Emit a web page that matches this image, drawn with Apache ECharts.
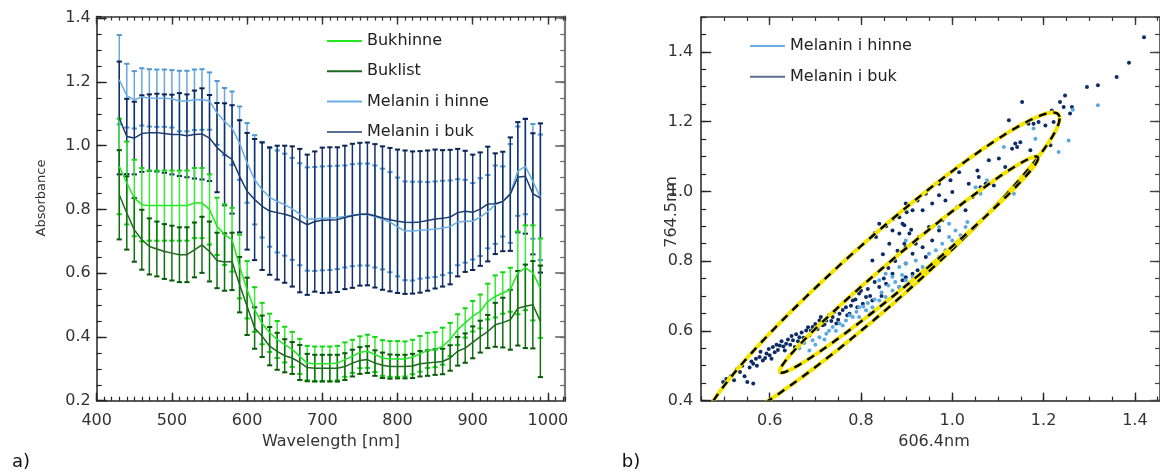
<!DOCTYPE html>
<html><head><meta charset="utf-8">
<script src="https://cdn.jsdelivr.net/npm/echarts@6/dist/echarts.min.js"></script>
<style>html,body{margin:0;padding:0;background:#fff}#c{width:1160px;height:471px}</style>
</head><body><div id="c"></div>
<script>
// ---------- Panel a) data ----------
const wavelengths = [430,440,450,460,470,480,490,500,510,520,530,540,550,560,570,580,590,600,610,620,630,640,650,660,670,680,690,700,710,720,730,740,750,760,770,780,790,800,810,820,830,840,850,860,870,880,890,900,910,920,930,940,950,960,970,980,990];
const bukhinneMean = [0.935,0.883,0.836,0.815,0.812,0.812,0.812,0.812,0.812,0.812,0.820,0.820,0.800,0.747,0.721,0.705,0.621,0.548,0.486,0.442,0.413,0.392,0.376,0.361,0.339,0.318,0.316,0.316,0.316,0.318,0.329,0.339,0.352,0.355,0.345,0.334,0.331,0.331,0.331,0.337,0.347,0.358,0.360,0.371,0.392,0.423,0.444,0.465,0.480,0.511,0.527,0.538,0.548,0.601,0.617,0.601,0.553];
const bukhinneSd = [0.150,0.130,0.120,0.115,0.110,0.110,0.110,0.110,0.110,0.110,0.110,0.110,0.110,0.090,0.095,0.100,0.100,0.090,0.070,0.065,0.060,0.058,0.056,0.055,0.055,0.054,0.054,0.054,0.054,0.054,0.054,0.052,0.050,0.052,0.055,0.056,0.056,0.056,0.055,0.054,0.056,0.055,0.055,0.058,0.052,0.048,0.046,0.048,0.053,0.056,0.066,0.065,0.069,0.130,0.133,0.149,0.156];
const buklistMean = [0.846,0.789,0.736,0.705,0.684,0.676,0.668,0.663,0.658,0.658,0.673,0.689,0.668,0.640,0.635,0.637,0.564,0.496,0.428,0.402,0.371,0.355,0.341,0.334,0.320,0.304,0.302,0.302,0.302,0.302,0.307,0.318,0.326,0.329,0.318,0.311,0.307,0.307,0.307,0.309,0.316,0.318,0.321,0.323,0.334,0.355,0.365,0.383,0.401,0.417,0.438,0.445,0.454,0.490,0.496,0.501,0.449];
const buklistSd = [0.140,0.115,0.100,0.094,0.088,0.086,0.086,0.086,0.086,0.086,0.086,0.088,0.094,0.087,0.090,0.090,0.087,0.090,0.065,0.065,0.060,0.058,0.052,0.050,0.055,0.043,0.042,0.042,0.042,0.042,0.042,0.042,0.042,0.042,0.040,0.040,0.038,0.037,0.037,0.038,0.040,0.040,0.040,0.040,0.040,0.045,0.046,0.050,0.050,0.052,0.069,0.078,0.094,0.117,0.131,0.137,0.175];
const hinneMean = [1.207,1.157,1.144,1.153,1.150,1.149,1.149,1.147,1.140,1.140,1.144,1.145,1.140,1.103,1.076,1.055,1.008,0.946,0.893,0.862,0.838,0.825,0.815,0.802,0.785,0.770,0.770,0.772,0.773,0.775,0.778,0.782,0.784,0.784,0.778,0.770,0.760,0.745,0.733,0.732,0.735,0.736,0.738,0.742,0.746,0.760,0.763,0.763,0.776,0.793,0.815,0.825,0.850,0.920,0.935,0.888,0.838];
const hinneSd = [0.140,0.100,0.090,0.090,0.090,0.090,0.090,0.090,0.095,0.095,0.095,0.095,0.090,0.100,0.105,0.115,0.115,0.125,0.140,0.150,0.155,0.160,0.160,0.160,0.160,0.162,0.163,0.163,0.163,0.162,0.160,0.160,0.160,0.160,0.160,0.158,0.157,0.155,0.155,0.155,0.152,0.150,0.150,0.148,0.145,0.135,0.130,0.120,0.122,0.115,0.123,0.110,0.155,0.140,0.150,0.180,0.197];
const bukMean = [1.087,1.029,1.024,1.038,1.041,1.041,1.038,1.035,1.035,1.031,1.035,1.037,1.024,0.994,0.973,0.957,0.904,0.857,0.831,0.810,0.795,0.790,0.785,0.778,0.765,0.752,0.762,0.766,0.767,0.768,0.775,0.780,0.785,0.786,0.780,0.773,0.768,0.763,0.760,0.759,0.761,0.765,0.770,0.772,0.776,0.790,0.794,0.791,0.801,0.817,0.818,0.825,0.848,0.901,0.904,0.849,0.836];
const bukSd = [0.177,0.118,0.114,0.120,0.120,0.122,0.123,0.125,0.130,0.130,0.138,0.143,0.135,0.140,0.160,0.170,0.176,0.183,0.190,0.200,0.200,0.210,0.215,0.220,0.225,0.220,0.220,0.228,0.228,0.227,0.225,0.226,0.224,0.224,0.225,0.225,0.225,0.225,0.225,0.223,0.222,0.220,0.218,0.214,0.211,0.200,0.190,0.181,0.178,0.180,0.158,0.156,0.178,0.173,0.180,0.190,0.234];
const leftXTicks = [400,500,600,700,800,900,1000];
const leftYTicks = [0.2,0.4,0.6,0.8,1.0,1.2,1.4];

// ---------- Panel b) data ----------
const bukScatterX = [0.498,0.535,0.551,0.564,0.564,0.578,0.593,0.585,0.607,0.611,0.622,0.636,0.633,0.651,0.655,0.665,0.680,0.687,0.694,0.709,0.716,0.724,0.738,0.746,0.753,0.767,0.775,0.782,0.796,0.804,0.811,0.825,0.840,0.855,0.869,0.884,0.898,
 0.825,0.833,0.840,0.869,0.884,0.898,0.895,
 0.505,0.515,0.522,0.528,0.540,0.545,0.556,0.560,0.570,0.572,0.580,0.590,0.598,0.600,0.604,0.615,0.618,0.626,0.630,0.640,0.645,0.648,0.658,0.662,0.670,0.674,0.684,0.690,0.700,0.705,0.712,0.720,0.730,0.735,0.742,0.750,0.760,0.770,0.778,0.788,0.792,0.800,0.815,0.820,0.830,0.845,0.850,0.860,0.875,0.880,0.862,0.848,0.830,0.855,0.870,0.900,0.910,0.920,
 0.891,0.906,0.895,0.913,0.927,0.935,0.949,0.956,0.971,0.978,0.898,0.913,0.891,0.924,0.942,
 0.884,0.898,0.913,0.924,0.935,0.942,0.956,0.971,0.971,0.985,0.996,1.000,1.011,1.015,1.029,1.036,1.044,1.055,1.058,1.062,1.073,1.080,1.091,1.102,1.116,1.124,1.131,1.138,1.142,1.149,1.153,1.167,1.171,1.178,1.189,1.204,1.215,1.218,1.222,1.236,1.244,1.247,1.258,1.262,1.295,1.319,1.360,1.387,1.420];
const bukScatterY = [0.453,0.482,0.453,0.449,0.506,0.525,0.535,0.515,0.554,0.539,0.558,0.563,0.544,0.573,0.554,0.582,0.601,0.587,0.611,0.630,0.616,0.630,0.640,0.621,0.649,0.668,0.649,0.687,0.707,0.678,0.697,0.687,0.726,0.735,0.764,0.726,0.754,
 0.802,0.869,0.907,0.888,0.879,0.840,0.903,
 0.462,0.470,0.458,0.490,0.500,0.470,0.495,0.512,0.520,0.500,0.540,0.522,0.548,0.530,0.520,0.560,0.545,0.570,0.555,0.575,0.560,0.585,0.590,0.570,0.595,0.580,0.610,0.600,0.620,0.605,0.640,0.618,0.645,0.628,0.655,0.632,0.660,0.645,0.672,0.690,0.668,0.715,0.720,0.700,0.740,0.700,0.750,0.780,0.800,0.830,0.850,0.820,0.880,0.900,0.920,0.940,0.890,0.850,
 0.907,0.879,0.850,0.821,0.869,0.840,0.898,0.859,0.888,0.917,0.793,0.764,0.745,0.774,0.812,
 0.926,0.965,0.946,0.974,0.946,0.993,0.965,1.022,0.989,0.974,1.032,0.998,0.955,1.055,0.946,1.022,0.984,1.060,1.041,1.012,1.022,1.089,1.017,1.094,1.070,1.204,1.122,1.137,1.127,1.141,1.256,1.194,1.118,1.194,1.199,1.189,1.132,1.232,1.199,1.256,1.242,1.275,1.223,1.242,1.299,1.304,1.328,1.369,1.442];
const hinneScatterX = [0.687,0.694,0.709,0.724,0.738,0.753,0.767,0.782,0.796,0.811,0.825,0.840,0.854,0.869,0.884,0.898,0.796,0.869,0.884,0.898,0.854,0.840,
 0.700,0.730,0.760,0.775,0.790,0.805,0.820,0.830,0.845,0.860,0.875,0.890,0.720,0.745,0.665,0.676,0.815,
 0.898,0.920,0.935,0.949,0.964,0.978,0.993,1.007,1.029,0.956,0.942,0.906,0.971,0.985,1.000,1.018,1.033,0.913,0.895,
 1.051,1.062,1.076,1.102,1.113,1.135,1.178,1.182,1.233,1.255,1.264,1.319,0.993,0.971,1.033];
const hinneScatterY = [0.544,0.573,0.582,0.592,0.611,0.621,0.630,0.640,0.640,0.659,0.668,0.687,0.697,0.716,0.726,0.745,0.668,0.755,0.783,0.793,0.764,0.745,
 0.560,0.600,0.615,0.645,0.655,0.670,0.650,0.690,0.710,0.730,0.740,0.760,0.575,0.600,0.550,0.565,0.680,
 0.859,0.802,0.783,0.821,0.831,0.850,0.869,0.888,0.898,0.783,0.774,0.735,0.812,0.831,0.859,0.874,0.879,0.755,0.726,
 1.012,0.993,1.032,0.965,1.127,0.993,1.180,1.151,1.113,1.146,1.234,1.247,0.907,0.898,0.912];
// confidence ellipses: centre, half-extent in x and y, correlation
const ellipseCx = [0.845, 0.905];
const ellipseCy = [0.772, 0.790];
const ellipseSx = [0.390, 0.283];
const ellipseSy = [0.454, 0.310];
const ellipseRho = [0.963, 0.985];
const rightXTicks = [0.6,0.8,1.0,1.2,1.4];
const rightYTicks = [0.4,0.6,0.8,1.0,1.2,1.4];

// ---------- build ----------
const FONT = 'DejaVu Sans';
const zip = (a, b) => a.map((v, i) => [v, b[i]]);
const errData = (m, s) => wavelengths.map((w, i) => [w, m[i] - s[i], m[i] + s[i]]);

function errRender(barColor, capColor) {
  return function (params, api) {
    const x = api.value(0), lo = api.value(1), hi = api.value(2);
    const p1 = api.coord([x, hi]), p2 = api.coord([x, lo]);
    const w = 2.6;
    return { type: 'group', children: [
      { type: 'line', shape: { x1: p1[0], y1: p1[1], x2: p2[0], y2: p2[1] }, style: { stroke: barColor, lineWidth: 1.5 } },
      { type: 'line', shape: { x1: p1[0] - w, y1: p1[1], x2: p1[0] + w, y2: p1[1] }, style: { stroke: capColor, lineWidth: 2 } },
      { type: 'line', shape: { x1: p2[0] - w, y1: p2[1], x2: p2[0] + w, y2: p2[1] }, style: { stroke: capColor, lineWidth: 2 } }
    ] };
  };
}

function ellipseRender(params, api) {
  const k = api.value(2);
  const pts = [];
  const s = Math.sqrt(1 - ellipseRho[k] * ellipseRho[k]);
  for (let j = 0; j <= 240; j++) {
    const t = j / 240 * 2 * Math.PI;
    const x = ellipseCx[k] + ellipseSx[k] * Math.cos(t);
    const y = ellipseCy[k] + ellipseSy[k] * (ellipseRho[k] * Math.cos(t) - s * Math.sin(t));
    pts.push(api.coord([x, y]));
  }
  const cs = params.coordSys;
  return { type: 'group',
    clipPath: { type: 'rect', shape: { x: cs.x, y: cs.y, width: cs.width, height: cs.height } },
    children: [
      { type: 'polyline', shape: { points: pts }, style: { stroke: '#f3e500', lineWidth: 4, fill: null } },
      { type: 'polyline', shape: { points: pts }, style: { stroke: '#000', lineWidth: 2.4, lineDash: [8, 7], fill: null } }
    ] };
}

const base = { type: 'value', splitLine: { show: false }, axisLabel: { show: false }, axisTick: { show: false }, axisLine: { show: false } };
const ax = (o) => Object.assign({}, base, o);
const lineOn = (c, w) => ({ show: true, onZero: false, lineStyle: { color: c, width: w } });
const tk = (len, c, w, vals) => { const t = { show: true, inside: true, length: len, lineStyle: { color: c, width: w } }; if (vals) t.customValues = vals; return t; };
const lbl = (vals, margin, fmt) => ({ show: true, customValues: vals, margin: margin, fontSize: 16, color: '#333', fontFamily: FONT, formatter: fmt });
const f1 = v => Number(v).toFixed(1);

const LX = { min: 400, max: 1023 }, LY = { min: 0.2, max: 1.405 };
const RX = { min: 0.45, max: 1.455 }, RY = { min: 0.4, max: 1.5 };
const legendText = { fontSize: 16, color: '#222', fontFamily: FONT, lineHeight: 20 };

const option = {
  animation: false,
  backgroundColor: '#fff',
  grid: [
    { left: 96.7, top: 16.6, width: 468.5, height: 384.1 },
    { left: 96.7, top: 16.6, width: 468.5, height: 384.1 },
    { left: 701.2, top: 17, width: 460.7, height: 383.6 },
    { left: 701.2, top: 17, width: 460.7, height: 383.6 }
  ],
  xAxis: [
    ax(Object.assign({ gridIndex: 0, position: 'bottom', axisLine: lineOn('#222', 1.5), axisTick: tk(8, '#222', 1.4, leftXTicks), axisLabel: lbl(leftXTicks, 12, v => String(v)) }, LX)),
    ax(Object.assign({ gridIndex: 0, position: 'top', axisLine: lineOn('#333', 1.5), axisTick: tk(8, '#333', 1.4, leftXTicks) }, LX)),
    ax(Object.assign({ gridIndex: 1, position: 'bottom', interval: 10, axisTick: tk(4, '#222', 1.2) }, LX)),
    ax(Object.assign({ gridIndex: 1, position: 'top', interval: 10, axisTick: tk(4, '#333', 1.2) }, LX)),
    ax(Object.assign({ gridIndex: 2, position: 'bottom', axisLine: lineOn('#222', 1.5), axisTick: tk(8, '#222', 1.4, rightXTicks), axisLabel: lbl(rightXTicks, 12, f1) }, RX)),
    ax(Object.assign({ gridIndex: 2, position: 'top', axisLine: lineOn('#333', 1.5), axisTick: tk(8, '#333', 1.4, rightXTicks) }, RX)),
    ax(Object.assign({ gridIndex: 3, position: 'bottom', interval: 0.05, axisTick: tk(4, '#222', 1.2) }, RX)),
    ax(Object.assign({ gridIndex: 3, position: 'top', interval: 0.05, axisTick: tk(4, '#333', 1.2) }, RX))
  ],
  yAxis: [
    ax(Object.assign({ gridIndex: 0, position: 'left', axisLine: lineOn('#222', 1.5), axisTick: tk(10, '#222', 1.4, leftYTicks), axisLabel: lbl(leftYTicks, 6, f1) }, LY)),
    ax(Object.assign({ gridIndex: 0, position: 'right', axisLine: lineOn('#7a7a7a', 2.2), axisTick: tk(10, '#666', 1.6, leftYTicks) }, LY)),
    ax(Object.assign({ gridIndex: 1, position: 'left', interval: 0.05, axisTick: tk(5, '#222', 1.2) }, LY)),
    ax(Object.assign({ gridIndex: 1, position: 'right', interval: 0.05, axisTick: tk(5, '#666', 1.2) }, LY)),
    ax(Object.assign({ gridIndex: 2, position: 'left', axisLine: lineOn('#222', 1.5), axisTick: tk(10, '#222', 1.4, rightYTicks), axisLabel: lbl(rightYTicks, 8, f1) }, RY)),
    ax(Object.assign({ gridIndex: 2, position: 'right', axisLine: lineOn('#333', 1.5), axisTick: tk(10, '#444', 1.4, rightYTicks) }, RY)),
    ax(Object.assign({ gridIndex: 3, position: 'left', interval: 0.05, axisTick: tk(5, '#222', 1.2) }, RY)),
    ax(Object.assign({ gridIndex: 3, position: 'right', interval: 0.05, axisTick: tk(5, '#444', 1.2) }, RY))
  ],
  legend: [
    { left: 322, top: 26, orient: 'vertical', icon: 'rect', itemWidth: 35, itemHeight: 2, itemGap: 10.3, selectedMode: false,
      textStyle: legendText,
      data: ['Bukhinne', 'Buklist', 'Melanin i hinne', { name: 'Melanin i buk', itemStyle: { color: '#5b6f96' } }] },
    { left: 745, top: 31, orient: 'vertical', icon: 'rect', itemWidth: 35, itemHeight: 2, itemGap: 10.7, selectedMode: false,
      textStyle: legendText,
      data: ['Melanin i hinne', { name: 'Melanin i buk', itemStyle: { color: '#5b6f96' } }] }
  ],
  graphic: [
    { type: 'text', x: 42, y: 198, rotation: Math.PI / 2, style: { text: 'Absorbance', font: '13px "DejaVu Sans"', fill: '#333', align: 'center', verticalAlign: 'middle', textAlign: 'center', textVerticalAlign: 'middle' } },
    { type: 'text', x: 331, y: 442, style: { text: 'Wavelength [nm]', font: '16px "DejaVu Sans"', fill: '#333', align: 'center', verticalAlign: 'middle', textAlign: 'center', textVerticalAlign: 'middle' } },
    { type: 'text', x: 934, y: 442, style: { text: '606.4nm', font: '16px "DejaVu Sans"', fill: '#333', align: 'center', verticalAlign: 'middle', textAlign: 'center', textVerticalAlign: 'middle' } },
    { type: 'text', x: 672, y: 212, rotation: Math.PI / 2, style: { text: '764.5nm', font: '16px "DejaVu Sans"', fill: '#333', align: 'center', verticalAlign: 'middle', textAlign: 'center', textVerticalAlign: 'middle' } },
    { type: 'text', x: 21, y: 462, style: { text: 'a)', font: '18px "DejaVu Sans"', fill: '#111', align: 'center', verticalAlign: 'middle', textAlign: 'center', textVerticalAlign: 'middle' } },
    { type: 'text', x: 631, y: 462, style: { text: 'b)', font: '18px "DejaVu Sans"', fill: '#111', align: 'center', verticalAlign: 'middle', textAlign: 'center', textVerticalAlign: 'middle' } }
  ],
  series: [
    // mean lines (first so legend icons use them)
    { name: 'Melanin i hinne', type: 'line', xAxisIndex: 0, yAxisIndex: 0, data: zip(wavelengths, hinneMean), symbol: 'none', z: 6, lineStyle: { color: '#6aaee4', width: 1.5 }, itemStyle: { color: '#6aaee4' } },
    { name: 'Melanin i buk', type: 'line', xAxisIndex: 0, yAxisIndex: 0, data: zip(wavelengths, bukMean), symbol: 'none', z: 7, lineStyle: { color: '#1c3b70', width: 1.5 }, itemStyle: { color: '#1c3b70' } },
    { name: 'Bukhinne', type: 'line', xAxisIndex: 0, yAxisIndex: 0, data: zip(wavelengths, bukhinneMean), symbol: 'none', z: 8, lineStyle: { color: '#22e822', width: 1.5 }, itemStyle: { color: '#22e822' } },
    { name: 'Buklist', type: 'line', xAxisIndex: 0, yAxisIndex: 0, data: zip(wavelengths, buklistMean), symbol: 'none', z: 9, lineStyle: { color: '#1e6a1e', width: 1.5 }, itemStyle: { color: '#1e6a1e' } },
    // error bars
    { name: 'hinne sd', type: 'custom', xAxisIndex: 0, yAxisIndex: 0, z: 2, data: errData(hinneMean, hinneSd), encode: { x: 0, y: [1, 2] }, renderItem: errRender('#6aa7dc', '#4f98d6') },
    { name: 'buk sd', type: 'custom', xAxisIndex: 0, yAxisIndex: 0, z: 3, data: errData(bukMean, bukSd), encode: { x: 0, y: [1, 2] }, renderItem: errRender('#13316b', '#0a2458') },
    { name: 'bukhinne sd', type: 'custom', xAxisIndex: 0, yAxisIndex: 0, z: 4, data: errData(bukhinneMean, bukhinneSd), encode: { x: 0, y: [1, 2] }, renderItem: errRender('#3be83b', '#10d810') },
    { name: 'buklist sd', type: 'custom', xAxisIndex: 0, yAxisIndex: 0, z: 5, data: errData(buklistMean, buklistSd), encode: { x: 0, y: [1, 2] }, renderItem: errRender('#117011', '#075a07') },
    // scatter
    { name: 'buk points', type: 'scatter', xAxisIndex: 4, yAxisIndex: 4, z: 3, symbolSize: 4, data: zip(bukScatterX, bukScatterY), itemStyle: { color: '#0d2c66', opacity: 1 } },
    { name: 'hinne points', type: 'scatter', xAxisIndex: 4, yAxisIndex: 4, z: 4, symbolSize: 4, data: zip(hinneScatterX, hinneScatterY), itemStyle: { color: '#5aa8e0', opacity: 1 } },
    // ellipses
    { name: 'ellipses', type: 'custom', xAxisIndex: 4, yAxisIndex: 4, z: 10,
      data: ellipseCx.map((c, k) => [c, ellipseCy[k], k]), encode: { x: 0, y: 1 }, renderItem: ellipseRender }
  ]
};
const chart = echarts.init(document.getElementById('c'), null, { renderer: 'canvas' });
chart.setOption(option);
</script>
</body></html>
